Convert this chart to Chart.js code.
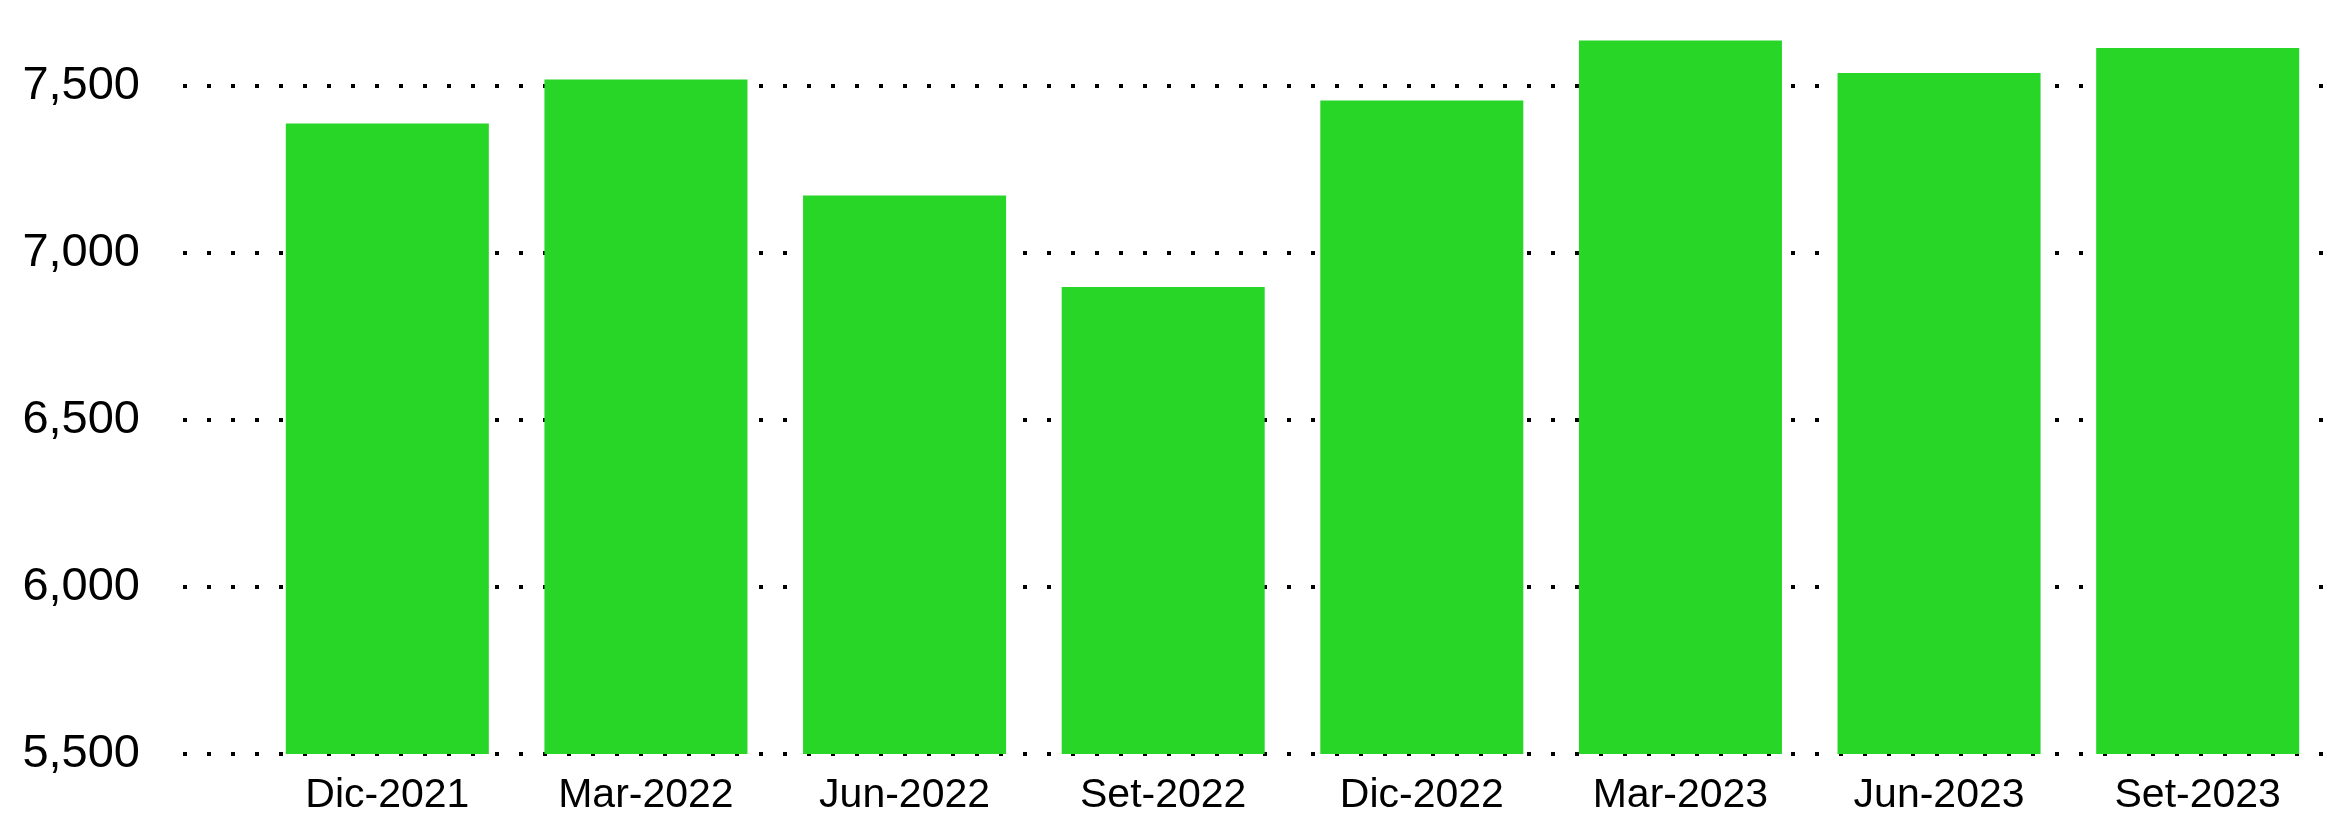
<!DOCTYPE html>
<html>
<head>
<meta charset="utf-8">
<style>
  html, body { margin: 0; padding: 0; background: #ffffff; }
  #wrap { width: 2337px; height: 820px; }
</style>
<script src="https://cdn.jsdelivr.net/npm/chart.js@4/dist/chart.umd.min.js"></script>
</head>
<body>
<div id="wrap"><canvas id="c" width="2337" height="820"></canvas></div>
<script>
const categories = ["Dic-2021", "Mar-2022", "Jun-2022", "Set-2022", "Dic-2022", "Mar-2023", "Jun-2023", "Set-2023"];
const values = [7389, 7521, 7173, 6899, 7458, 7638, 7540, 7615];
const yTicks = [5500, 6000, 6500, 7000, 7500];
const yMin = 5500;
const yMax = 7750;

const ctx = document.getElementById('c').getContext('2d');
new Chart(ctx, {
  type: 'bar',
  data: {
    labels: categories,
    datasets: [{
      data: values,
      backgroundColor: '#27d627',
      borderWidth: 0,
      categoryPercentage: 1,
      barPercentage: 0.785
    }]
  },
  options: {
    responsive: false,
    animation: false,
    devicePixelRatio: 1,
    layout: { padding: { top: 3, right: 10, bottom: 0, left: 0 } },
    plugins: { legend: { display: false }, tooltip: { enabled: false } },
    scales: {
      x: {
        grid: { display: false, drawTicks: false },
        border: { display: false },
        ticks: {
          color: '#000',
          padding: 17,
          maxRotation: 0,
          font: { family: '"Liberation Sans", Arial, sans-serif', size: 41 }
        },
        afterFit: (s) => { s.height = 66; s.paddingLeft = 0; s.paddingRight = 0; }
      },
      y: {
        min: yMin,
        max: yMax,
        border: { display: false, dash: [4, 20], dashOffset: 3 },
        grid: {
          color: '#000',
          lineWidth: 4,
          tickLength: 75,
          tickBorderDash: [4, 20],
          tickBorderDashOffset: 0,
          tickColor: '#000',
          tickWidth: 4
        },
        afterBuildTicks: (s) => { s.ticks = yTicks.map(v => ({ value: v })); },
        ticks: {
          color: '#000',
          padding: 43,
          font: { family: '"Liberation Sans", Arial, sans-serif', size: 47 }
        },
        afterFit: (s) => { s.width = 258; s.paddingTop = 0; s.paddingBottom = 0; }
      }
    }
  }
});
</script>
</body>
</html>
